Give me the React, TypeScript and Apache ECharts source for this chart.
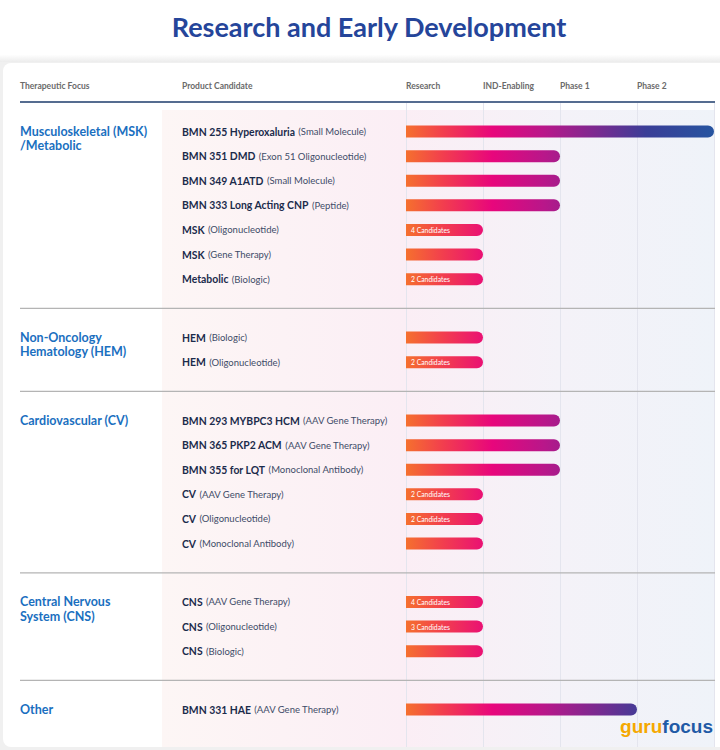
import React, { useEffect, useRef } from "react";
import * as echarts from "echarts";

const title = "Research and Early Development";
const columnHeaders = ["Therapeutic Focus", "Product Candidate"];
const phases = ["Research", "IND-Enabling", "Phase 1", "Phase 2"];
const focusAreas = [
  ["Musculoskeletal (MSK)", "/Metabolic"],
  ["Non-Oncology", "Hematology (HEM)"],
  ["Cardiovascular (CV)"],
  ["Central Nervous", "System (CNS)"],
  ["Other"],
];
const candidateNames = [
  "BMN 255 Hyperoxaluria",
  "BMN 351 DMD",
  "BMN 349 A1ATD",
  "BMN 333 Long Acting CNP",
  "MSK",
  "MSK",
  "Metabolic",
  "HEM",
  "HEM",
  "BMN 293 MYBPC3 HCM",
  "BMN 365 PKP2 ACM",
  "BMN 355 for LQT",
  "CV",
  "CV",
  "CV",
  "CNS",
  "CNS",
  "CNS",
  "BMN 331 HAE",
];
const modalities = [
  "(Small Molecule)",
  "(Exon 51 Oligonucleotide)",
  "(Small Molecule)",
  "(Peptide)",
  "(Oligonucleotide)",
  "(Gene Therapy)",
  "(Biologic)",
  "(Biologic)",
  "(Oligonucleotide)",
  "(AAV Gene Therapy)",
  "(AAV Gene Therapy)",
  "(Monoclonal Antibody)",
  "(AAV Gene Therapy)",
  "(Oligonucleotide)",
  "(Monoclonal Antibody)",
  "(AAV Gene Therapy)",
  "(Oligonucleotide)",
  "(Biologic)",
  "(AAV Gene Therapy)",
];
const focusIndex = [0, 0, 0, 0, 0, 0, 0, 1, 1, 2, 2, 2, 2, 2, 2, 3, 3, 3, 4];
// stage reached, in phase columns (1 = end of Research, 4 = end of Phase 2)
const stageEnd = [4, 2, 2, 2, 1, 1, 1, 1, 1, 2, 2, 2, 1, 1, 1, 1, 1, 1, 3];
const candidateCounts = [
  "", "", "", "", "4 Candidates", "", "2 Candidates", "", "2 Candidates",
  "", "", "", "2 Candidates", "2 Candidates", "", "4 Candidates", "3 Candidates", "", "",
];

const GROUP_GAP = 1.375;
const FONT = "Lato, 'Noto Sans', sans-serif";
const FOCUS_LINE = 14.4;

const rowPos = (i: number) => i + focusIndex[i] * GROUP_GAP;

export default function App() {
  const ref = useRef<HTMLDivElement>(null);

  useEffect(() => {
    document.body.style.margin = "0";
    if (!ref.current) return;
    const chart = echarts.init(ref.current, null, { renderer: "svg" });

    const barStops = [
      { offset: 0, color: "#f5702e" },
      { offset: 0.12, color: "#f23e4e" },
      { offset: 0.28, color: "#e8067c" },
      { offset: 0.45, color: "#b8178a" },
      { offset: 0.62, color: "#7a2a90" },
      { offset: 0.78, color: "#3a3e97" },
      { offset: 1, color: "#2654a0" },
    ];

    const barData = candidateNames.map((_, i) => [stageEnd[i], rowPos(i), i]);
    const separatorData: number[][] = [];
    for (let i = 0; i < candidateNames.length - 1; i++) {
      if (focusIndex[i] !== focusIndex[i + 1]) {
        separatorData.push([0, (rowPos(i) + rowPos(i + 1)) / 2]);
      }
    }
    const focusData = focusAreas.map((_, g) => [0, rowPos(focusIndex.indexOf(g)), g]);

    const option: any = {
      animation: false,
      grid: { left: 406, right: 6, top: 103, bottom: 3 },
      xAxis: {
        type: "value",
        position: "top",
        min: 0,
        max: 4,
        interval: 1,
        axisLine: { show: false },
        axisTick: { show: false },
        splitLine: { show: true, lineStyle: { color: "#e4e5ee", width: 1 } },
        axisLabel: {
          formatter: (v: number) => phases[v] ?? "",
          align: "left",
          margin: 13,
          color: "#6a6a6a",
          fontWeight: "bold",
          fontSize: 8.5,
          fontFamily: FONT,
        },
      },
      yAxis: { type: "value", inverse: true, min: -1.16, max: 25.02, show: false },
      graphic: [
        { type: "rect", z: -30, shape: { x: 0, y: 0, width: 720, height: 750 }, style: { fill: "#f0f0f0" } },
        {
          type: "rect",
          z: -29,
          shape: { x: 0, y: 0, width: 720, height: 62 },
          style: {
            fill: new echarts.graphic.LinearGradient(0, 0, 0, 1, [
              { offset: 0, color: "#ffffff" },
              { offset: 0.88, color: "#ffffff" },
              { offset: 1, color: "#ececec" },
            ]),
          },
        },
        { type: "rect", z: -28, shape: { x: 3, y: 63, width: 760, height: 684, r: 8 }, style: { fill: "#ffffff" } },
        {
          type: "rect",
          z: -27,
          shape: { x: 162, y: 110, width: 553, height: 637 },
          style: {
            fill: new echarts.graphic.LinearGradient(0, 0, 1, 0, [
              { offset: 0, color: "#fdf6f5" },
              { offset: 0.44, color: "#fbeef5" },
              { offset: 0.72, color: "#f4f2f8" },
              { offset: 1, color: "#eff3f9" },
            ]),
          },
        },
        {
          type: "text",
          z: 50,
          style: {
            x: 369,
            y: 26,
            text: title,
            align: "center",
            verticalAlign: "middle",
            fill: "#25459a",
            font: `bold 27px ${FONT}`,
          },
        },
        {
          type: "text",
          z: 50,
          style: { x: 20, y: 86, text: columnHeaders[0], verticalAlign: "middle", fill: "#6a6a6a", font: `bold 8.5px ${FONT}` },
        },
        {
          type: "text",
          z: 50,
          style: { x: 182, y: 86, text: columnHeaders[1], verticalAlign: "middle", fill: "#6a6a6a", font: `bold 8.5px ${FONT}` },
        },
        {
          type: "line",
          z: 50,
          shape: { x1: 20, y1: 102, x2: 715, y2: 102 },
          style: { stroke: "#1d3b6b", lineWidth: 1.5 },
        },
        {
          type: "text",
          z: 60,
          style: {
            x: 713,
            y: 726,
            align: "right",
            verticalAlign: "middle",
            text: "{g|guru}{f|focus}",
            rich: {
              g: { fill: "#f5a800", fontSize: 19, fontWeight: "bold", fontFamily: "'Liberation Sans', sans-serif" },
              f: { fill: "#1f5aa6", fontSize: 19, fontWeight: "bold", fontFamily: "'Liberation Sans', sans-serif" },
            },
          },
        },
      ],
      series: [
        {
          type: "custom",
          name: "separators",
          z: 3,
          clip: false,
          data: separatorData,
          renderItem: (_p: any, api: any) => {
            const y = api.coord([0, api.value(1)])[1];
            return {
              type: "line",
              shape: { x1: 20, y1: y, x2: 715, y2: y },
              style: { stroke: "#b4b4b4", lineWidth: 1.2 },
            };
          },
        },
        {
          type: "custom",
          name: "focus",
          z: 4,
          clip: false,
          data: focusData,
          renderItem: (_p: any, api: any) => {
            const g = api.value(2);
            const y = api.coord([0, api.value(1)])[1];
            return {
              type: "text",
              style: {
                x: 20,
                y: y - FOCUS_LINE / 2,
                text: focusAreas[g].join("\n"),
                verticalAlign: "top",
                lineHeight: FOCUS_LINE,
                fill: "#1a6fc0",
                font: `bold 12.5px ${FONT}`,
              },
            };
          },
        },
        {
          type: "custom",
          name: "pipeline",
          z: 5,
          clip: false,
          data: barData,
          renderItem: (_p: any, api: any) => {
            const i = api.value(2);
            const p0 = api.coord([0, api.value(1)]);
            const p1 = api.coord([api.value(0), api.value(1)]);
            const pEnd = api.coord([4, api.value(1)]);
            const h = 12;
            const children: any[] = [
              {
                type: "rect",
                shape: { x: p0[0], y: p0[1] - h / 2, width: p1[0] - p0[0], height: h, r: [0, h / 2, h / 2, 0] },
                style: { fill: new echarts.graphic.LinearGradient(p0[0], 0, pEnd[0], 0, barStops, true) },
              },
              {
                type: "text",
                style: {
                  x: p0[0] - 224,
                  y: p0[1],
                  verticalAlign: "middle",
                  text: `{b|${candidateNames[i]}} {n|${modalities[i]}}`,
                  rich: {
                    b: { fill: "#1b2b4b", fontSize: 10.4, fontWeight: "bold", fontFamily: FONT },
                    n: { fill: "#3e4c68", fontSize: 9.5, fontFamily: FONT },
                  },
                },
              },
            ];
            if (candidateCounts[i]) {
              children.push({
                type: "text",
                style: {
                  x: p0[0] + 5,
                  y: p0[1],
                  verticalAlign: "middle",
                  text: candidateCounts[i],
                  fill: "#ffffff",
                  font: `6.8px ${FONT}`,
                },
              });
            }
            return { type: "group", children };
          },
        },
      ],
    };

    chart.setOption(option);
    return () => chart.dispose();
  }, []);

  return <div ref={ref} style={{ width: 720, height: 750 }} />;
}
